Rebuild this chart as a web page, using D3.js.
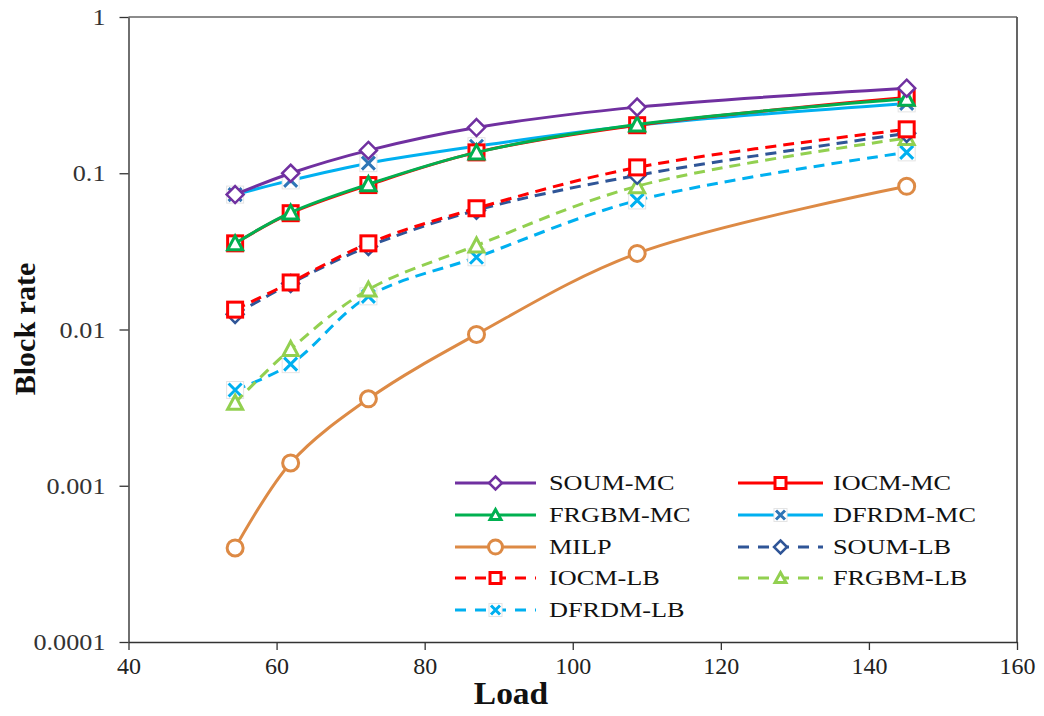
<!DOCTYPE html>
<html>
<head>
<meta charset="utf-8">
<script src="https://cdn.jsdelivr.net/npm/d3@7"></script>
<style>
  body { margin: 0; background: #fff; }
  svg { display: block; font-family: "Liberation Serif", "Times New Roman", serif; }
</style>
</head>
<body>
<svg width="1044" height="716"></svg>
<script>
// data
const loads = [54.4, 61.9, 72.4, 87.0, 108.7, 145.1];

const soumMC  = [0.073, 0.100, 0.140, 0.196, 0.265, 0.350];
const iocmMC  = [0.0356, 0.0555, 0.084, 0.136, 0.203, 0.305];
const frgbmMC = [0.0356, 0.0560, 0.085, 0.136, 0.205, 0.300];
const dfrdmMC = [0.073, 0.090, 0.116, 0.149, 0.203, 0.280];
const milp    = [0.0004, 0.0014, 0.0036, 0.0093, 0.0307, 0.0825];
const soumLB  = [0.0125, 0.0197, 0.034, 0.058, 0.097, 0.180];
const iocmLB  = [0.0134, 0.0200, 0.0356, 0.0597, 0.109, 0.191];
const frgbmLB = [0.0034, 0.0075, 0.018, 0.0345, 0.0826, 0.168];
const dfrdmLB = [0.0041, 0.0060, 0.0163, 0.029, 0.067, 0.136];

const xTicks = [40, 60, 80, 100, 120, 140, 160];
const yTicks = [0.0001, 0.001, 0.01, 0.1, 1];
const yTickLabels = ["0.0001", "0.001", "0.01", "0.1", "1"];

// series in legend order (two columns, row by row)
const series = [
  {name: "SOUM-MC",  vals: soumMC,  color: "#7030a0", mark: "diamond", mcolor: "#7030a0", dash: false},
  {name: "IOCM-MC",  vals: iocmMC,  color: "#ff0000", mark: "square",  mcolor: "#ff0000", dash: false},
  {name: "FRGBM-MC", vals: frgbmMC, color: "#00b050", mark: "triangle",mcolor: "#00b050", dash: false},
  {name: "DFRDM-MC", vals: dfrdmMC, color: "#00b0f0", mark: "x",       mcolor: "#2e75b6", dash: false},
  {name: "MILP",     vals: milp,    color: "#dd8a45", mark: "circle",  mcolor: "#dd8a45", dash: false},
  {name: "SOUM-LB",  vals: soumLB,  color: "#2f5597", mark: "diamond", mcolor: "#2f5597", dash: true},
  {name: "IOCM-LB",  vals: iocmLB,  color: "#ff0000", mark: "square",  mcolor: "#ff0000", dash: true},
  {name: "FRGBM-LB", vals: frgbmLB, color: "#92d050", mark: "triangle",mcolor: "#92d050", dash: true},
  {name: "DFRDM-LB", vals: dfrdmLB, color: "#00b0f0", mark: "x",       mcolor: "#00b0f0", dash: true}
];

// drawing order (back to front) roughly as in the picture
const drawOrder = ["MILP", "DFRDM-LB", "FRGBM-LB", "SOUM-LB", "IOCM-LB", "DFRDM-MC", "IOCM-MC", "FRGBM-MC", "SOUM-MC"];

const svg = d3.select("svg");
const pLeft = 128.5, pRight = 1017, pTop = 17, pBottom = 642;

const x = d3.scaleLinear().domain([40, 160]).range([pLeft, pRight]);
const y = d3.scaleLog().domain([0.0001, 1]).range([pBottom, pTop]);

// frame (top and right are a lighter grey in the picture)
svg.append("line").attr("x1", pLeft).attr("x2", pRight).attr("y1", pTop).attr("y2", pTop)
  .attr("stroke", "#666").attr("stroke-width", 1.5);
svg.append("line").attr("x1", pRight).attr("x2", pRight).attr("y1", pTop).attr("y2", pBottom)
  .attr("stroke", "#555").attr("stroke-width", 1.8);

// axes
const xAxis = svg.append("g")
  .attr("transform", `translate(0,${pBottom})`)
  .call(d3.axisBottom(x).tickValues(xTicks).tickSize(8).tickSizeOuter(0).tickFormat(d3.format("d")));
xAxis.select(".domain").attr("stroke", "#333").attr("stroke-width", 1.4);
xAxis.selectAll(".tick line").attr("stroke", "#333").attr("stroke-width", 1.3);
xAxis.selectAll(".tick text")
  .attr("font-family", "Liberation Serif").attr("font-size", 24).attr("fill", "#222")
  .attr("y", 13).attr("dy", "0.8em");

const yAxis = svg.append("g")
  .attr("transform", `translate(${pLeft},0)`)
  .call(d3.axisLeft(y).tickValues(yTicks).tickSize(9).tickSizeOuter(0)
    .tickFormat((d, i) => yTickLabels[i]));
yAxis.select(".domain").attr("stroke", "#333").attr("stroke-width", 1.4);
yAxis.selectAll(".tick line").attr("stroke", "#333").attr("stroke-width", 1.3);
yAxis.selectAll(".tick text")
  .attr("font-family", "Liberation Serif").attr("font-size", 23).attr("fill", "#333")
  .attr("x", 0).attr("dy", "0.33em")
  .attr("transform", "translate(-23,0) scale(1.14,1)");

// axis titles
svg.append("text")
  .attr("transform", "translate(511,704) scale(1.08,1)")
  .attr("text-anchor", "middle")
  .attr("font-size", 31).attr("font-weight", "bold").attr("fill", "#111")
  .text("Load");

svg.append("text")
  .attr("transform", "translate(35,329) rotate(-90)")
  .attr("text-anchor", "middle")
  .attr("font-size", 30).attr("font-weight", "bold").attr("fill", "#111")
  .text("Block rate");

const line = d3.line()
  .x(d => x(d[0]))
  .y(d => y(d[1]))
  .curve(d3.curveCatmullRom.alpha(0.5));

function drawMarker(g, kind, color, cx, cy, s) {
  const h = s / 2;
  if (kind === "diamond") {
    g.append("path")
      .attr("d", `M${cx},${cy - h - 1}L${cx + h + 1},${cy}L${cx},${cy + h + 1}L${cx - h - 1},${cy}Z`)
      .attr("fill", "#fff").attr("stroke", color).attr("stroke-width", 2.5);
  } else if (kind === "square") {
    g.append("rect")
      .attr("x", cx - h).attr("y", cy - h).attr("width", s).attr("height", s)
      .attr("fill", "#fff").attr("stroke", color).attr("stroke-width", 3);
  } else if (kind === "triangle") {
    g.append("path")
      .attr("d", `M${cx},${cy - h}L${cx + h},${cy + h - 1}L${cx - h},${cy + h - 1}Z`)
      .attr("fill", "#fff").attr("stroke", color).attr("stroke-width", 3);
  } else if (kind === "circle") {
    g.append("circle")
      .attr("cx", cx).attr("cy", cy).attr("r", h)
      .attr("fill", "#fff").attr("stroke", color).attr("stroke-width", 3);
  } else if (kind === "x") {
    g.append("rect")
      .attr("x", cx - h - 1).attr("y", cy - h - 1).attr("width", s + 2).attr("height", s + 2)
      .attr("fill", "#fff").attr("stroke", "#e4e4e4").attr("stroke-width", 1);
    g.append("path")
      .attr("d", `M${cx - h + 1},${cy - h + 1}L${cx + h - 1},${cy + h - 1}M${cx + h - 1},${cy - h + 1}L${cx - h + 1},${cy + h - 1}`)
      .attr("stroke", color).attr("stroke-width", 3).attr("fill", "none");
  }
}

const plot = svg.append("g");
drawOrder.forEach(name => {
  const s = series.find(d => d.name === name);
  const pts = loads.map((l, i) => [l, s.vals[i]]);
  const g = plot.append("g");
  g.append("path")
    .attr("d", line(pts))
    .attr("fill", "none")
    .attr("stroke", s.color)
    .attr("stroke-width", 3)
    .attr("stroke-dasharray", s.dash ? "11,7" : null);
  pts.forEach(p => drawMarker(g, s.mark, s.mcolor, x(p[0]), y(p[1]), s.mark === "circle" ? 16 : 15));
});

// legend
const legCols = [{x1: 455, x2: 536, tx: 549}, {x1: 738, x2: 823, tx: 833}];
const legRows = [483, 515, 547, 578, 610];
const legend = svg.append("g");
series.forEach((s, i) => {
  const c = legCols[i % 2];
  const ry = legRows[Math.floor(i / 2)];
  const g = legend.append("g");
  g.append("line")
    .attr("x1", c.x1).attr("x2", c.x2).attr("y1", ry).attr("y2", ry)
    .attr("stroke", s.color).attr("stroke-width", 3)
    .attr("stroke-dasharray", s.dash ? "11,9" : null);
  const mx = (c.x1 + c.x2) / 2;
  drawMarker(g, s.mark, s.mcolor, mx, ry, s.mark === "circle" ? 14 : 11);
  g.append("text")
    .attr("transform", `translate(${c.tx},${ry}) scale(1.25,1)`)
    .attr("dy", "0.35em")
    .attr("font-size", 21).attr("fill", "#111")
    .text(s.name);
});
</script>
</body>
</html>
